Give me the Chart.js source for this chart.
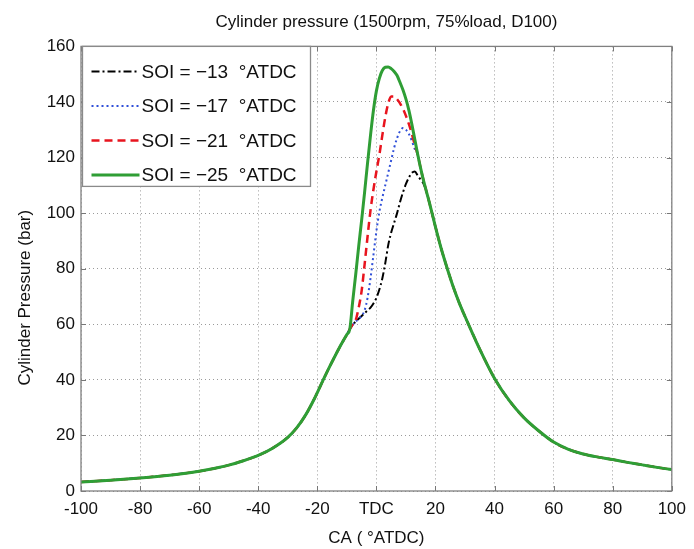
<!DOCTYPE html>
<html><head><meta charset="utf-8">
<script src="https://cdn.jsdelivr.net/npm/chart.js@4.4.0/dist/chart.umd.min.js"></script>
<style>html,body{margin:0;padding:0;background:#fff}#wrap{width:694px;height:549px}</style>
</head><body><div id="wrap"><canvas id="c" width="694" height="549"></canvas></div>
<script>
// ---- data ----
const crankAngle = [-100,-90,-80,-70,-60,-55,-50,-45,-40,-35,-30,-27,-24,-21,-18,-16,-14,-12,-10,-9,
  -8,-7,-6,-5,-4,-3,-2,-1,
  0,1,2,3,4,5,6,7,8,9,10,11,12,13,14,15,16,17,18,
  20,22,24,26,28,30,32,35,40,45,50,55,60,65,70,75,80,85,90,95,100];
const soiMinus13 = [3.2,3.9,4.7,5.7,7.1,8.1,9.3,10.9,12.8,15.5,19.3,22.7,27.3,33.2,40,44.4,48.6,52.6,56.3,58.3,
  59.8,61,62,63,64,65,66,67.5,
  69.5,72.5,76.5,82,88.5,93,96.5,100,104,107.5,110.5,112.8,114.5,115,113.5,112,110.5,107.5,103.5,
  95,87,80,73.5,67.8,62.8,58,51,40.5,32.5,26.3,21.6,17.6,15,13.3,12.2,11.3,10.3,9.4,8.5,7.7];
const soiMinus17 = [3.2,3.9,4.7,5.7,7.1,8.1,9.3,10.9,12.8,15.5,19.3,22.7,27.3,33.2,40,44.4,48.6,52.6,56.3,58.3,
  59.8,61,62,63,65,69.5,76.5,85,
  93.5,100.5,105.5,110,114.5,119,123.5,127,129.5,130.6,130,128.5,126,123,121,116,111.5,107.5,103.5,
  95,87,80,73.5,67.8,62.8,58,51,40.5,32.5,26.3,21.6,17.6,15,13.3,12.2,11.3,10.3,9.4,8.5,7.7];
const soiMinus21 = [3.2,3.9,4.7,5.7,7.1,8.1,9.3,10.9,12.8,15.5,19.3,22.7,27.3,33.2,40,44.4,48.6,52.6,56.3,58.3,
  60,61.5,66,72,81.5,91.5,101,108.5,
  115,121,128,134.5,139.5,142,142,141,139.5,137.5,135,132,128.5,124.5,121,116,111.5,107.5,103.5,
  95,87,80,73.5,67.8,62.8,58,51,40.5,32.5,26.3,21.6,17.6,15,13.3,12.2,11.3,10.3,9.4,8.5,7.7];
const soiMinus25 = [3.2,3.9,4.7,5.7,7.1,8.1,9.3,10.9,12.8,15.5,19.3,22.7,27.3,33.2,40,44.4,48.6,52.6,56.3,58.3,
  68.5,78,88,97.5,107.5,118,128,137,
  144,148.5,151.3,152.5,152.6,152,151,149.5,147,144.3,141,137,132,126.5,121,116,111.5,107.5,103.5,
  95,87,80,73.5,67.8,62.8,58,51,40.5,32.5,26.3,21.6,17.6,15,13.3,12.2,11.3,10.3,9.4,8.5,7.7];
const seriesLabels = ['SOI = \u221213  \u00B0ATDC','SOI = \u221217  \u00B0ATDC','SOI = \u221221  \u00B0ATDC','SOI = \u221225  \u00B0ATDC'];
const xTickValues = [-100,-80,-60,-40,-20,0,20,40,60,80,100];
const xTickLabels = ['-100','-80','-60','-40','-20','TDC','20','40','60','80','100'];
const yTickValues = [0,20,40,60,80,100,120,140,160];
const chartTitle = 'Cylinder pressure (1500rpm, 75%load, D100)';
const xAxisTitle = 'CA ( \u00B0ATDC)';
const yAxisTitle = 'Cylinder Pressure (bar)';

// ---- chart ----
const FONT = "'Liberation Sans', Arial, sans-serif";
Chart.defaults.font.family = FONT;
Chart.defaults.color = '#111';
const pts = arr => crankAngle.map((x, i) => ({x: x, y: arr[i]}));

const frameAndLegend = {
  id: 'frameAndLegend',
  afterLayout(chart) {
    chart.titleBlock.left += 10; chart.titleBlock.right += 10;
    const ys = chart.scales.y;
    if (!ys._origDrawTitle) {
      ys._origDrawTitle = ys.drawTitle;
      ys.drawTitle = function () {
        const t = this.top; this.top = t + 58;
        this._origDrawTitle();
        this.top = t;
      };
    }
  },
  afterDatasetsDraw(chart) {
    const {ctx, chartArea: a, scales} = chart;
    ctx.save();
    ctx.strokeStyle = '#777'; ctx.lineWidth = 1; ctx.setLineDash([]);
    ctx.beginPath();
    scales.x.ticks.forEach(t => {
      const px = Math.round(scales.x.getPixelForValue(t.value)) + 0.5;
      ctx.moveTo(px, a.bottom); ctx.lineTo(px, a.bottom - 5);
      ctx.moveTo(px, a.top); ctx.lineTo(px, a.top + 5);
    });
    scales.y.ticks.forEach(t => {
      const py = Math.round(scales.y.getPixelForValue(t.value)) + 0.5;
      ctx.moveTo(a.left, py); ctx.lineTo(a.left + 5, py);
      ctx.moveTo(a.right, py); ctx.lineTo(a.right - 5, py);
    });
    ctx.stroke();
    ctx.strokeStyle = '#808080'; ctx.lineWidth = 1.3;
    ctx.strokeRect(a.left, a.top, a.right - a.left, a.bottom - a.top);
    const lx = a.left + 1.5, ly = a.top, lw = 228, lh = 140;
    ctx.fillStyle = '#fff';
    ctx.fillRect(lx, ly, lw, lh);
    ctx.strokeStyle = '#8a8a8a'; ctx.lineWidth = 1.3;
    ctx.strokeRect(lx, ly, lw, lh);
    ctx.font = '19px ' + FONT;
    ctx.textBaseline = 'middle'; ctx.textAlign = 'left';
    chart.data.datasets.forEach((ds, i) => {
      const y = ly + 25 + i * 34.5;
      ctx.strokeStyle = ds.borderColor; ctx.lineWidth = ds.borderWidth;
      ctx.setLineDash(ds.borderDash || []);
      ctx.beginPath(); ctx.moveTo(lx + 9, y); ctx.lineTo(lx + 57, y); ctx.stroke();
      ctx.setLineDash([]);
      ctx.fillStyle = '#111';
      ctx.fillText(ds.label, lx + 59, y + 1);
    });
    ctx.restore();
  }
};

new Chart(document.getElementById('c'), {
  type: 'line',
  data: {
    datasets: [
      {label: seriesLabels[0], data: pts(soiMinus13), borderColor: '#000000', borderWidth: 2, borderDash: [8,3,2,3], order: 3},
      {label: seriesLabels[1], data: pts(soiMinus17), borderColor: '#2f4fd8', borderWidth: 2, borderDash: [2,3], order: 2},
      {label: seriesLabels[2], data: pts(soiMinus21), borderColor: '#e8141e', borderWidth: 2.5, borderDash: [8,5], order: 1},
      {label: seriesLabels[3], data: pts(soiMinus25), borderColor: '#2f9e35', borderWidth: 3, order: 0}
    ]
  },
  options: {
    responsive: false,
    devicePixelRatio: 1,
    animation: false,
    layout: {padding: {left: 0, right: 17, top: 0, bottom: 0}},
    elements: {point: {radius: 0}, line: {cubicInterpolationMode: 'monotone', fill: false}},
    plugins: {
      legend: {display: false},
      tooltip: {enabled: false},
      title: {display: true, text: chartTitle, fullSize: false, color: '#111',
        font: {size: 17, weight: 'normal'}, padding: {top: 12, bottom: 14}}
    },
    scales: {
      x: {
        type: 'linear', min: -100, max: 100,
        afterBuildTicks: s => { s.ticks = xTickValues.map(v => ({value: v})); },
        afterFit: s => { s.height = 58; },
        ticks: {padding: 8, font: {size: 17}, color: '#111', maxRotation: 0,
          callback: (v) => xTickLabels[xTickValues.indexOf(v)]},
        grid: {color: '#9a9a9a', lineWidth: 1, drawTicks: false},
        border: {display: false, dash: [1,3]},
        title: {display: true, text: xAxisTitle, font: {size: 17}, color: '#111', padding: {top: 0, bottom: 0}}
      },
      y: {
        type: 'linear', min: 0, max: 160,
        afterBuildTicks: s => { s.ticks = yTickValues.map(v => ({value: v})); },
        afterFit: s => { s.width = 81; },
        ticks: {padding: 6, font: {size: 17}, color: '#111'},
        grid: {color: '#9a9a9a', lineWidth: 1, drawTicks: false},
        border: {display: false, dash: [1,3]},
        title: {display: true, text: yAxisTitle, font: {size: 17}, color: '#111', padding: {top: 15, bottom: 0}}
      }
    }
  },
  plugins: [frameAndLegend]
});
</script></body></html>
